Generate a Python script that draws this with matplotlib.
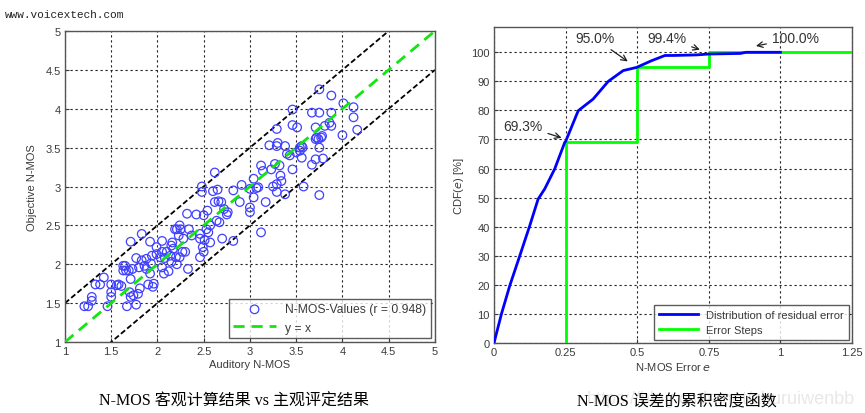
import numpy as np
import matplotlib
matplotlib.use('Agg')
import matplotlib.pyplot as plt

plt.rcParams['font.family'] = ['Liberation Sans', 'Noto Sans CJK SC', 'DejaVu Sans']

# scatter: auditory vs objective N-MOS
auditory = [1.21, 1.25, 1.29, 1.29, 1.33, 1.38, 1.42, 1.46, 1.50, 1.50, 1.50, 1.58, 1.61, 1.63,
            1.65, 1.66, 1.67, 1.69, 1.70, 1.71, 1.73, 1.71, 1.71, 1.74, 1.77, 1.77, 1.79, 1.81,
            1.83, 1.83, 1.86, 1.88, 1.90, 1.92, 1.92, 1.93, 1.95, 1.96, 1.99, 1.99, 2.03, 2.05,
            2.05, 2.07, 2.08, 2.12, 2.14, 2.15, 2.16, 2.17, 2.19, 2.20, 2.21, 2.21, 2.23, 2.24,
            2.25, 2.27, 2.28, 2.32, 2.33, 2.34, 2.37, 2.42, 2.46, 2.46, 2.46, 2.48, 2.48, 2.49,
            2.50, 2.50, 2.51, 2.53, 2.54, 2.55, 2.57, 2.57, 2.60, 2.62, 2.62, 2.64, 2.65, 2.66,
            2.67, 2.69, 2.70, 2.72, 2.75, 2.76, 2.82, 2.82, 2.89, 2.91, 3.00, 3.00, 3.00, 3.04,
            3.04, 3.07, 3.09, 3.12, 3.12, 3.14, 3.17, 3.21, 3.23, 3.25, 3.27, 3.29, 3.29, 3.29,
            3.29, 3.30, 3.32, 3.33, 3.34, 3.38, 3.38, 3.40, 3.43, 3.46, 3.46, 3.46, 3.50, 3.51,
            3.54, 3.54, 3.56, 3.57, 3.56, 3.58, 3.67, 3.67, 3.71, 3.71, 3.71, 3.72, 3.74, 3.75,
            3.75, 3.75, 3.75, 3.77, 3.78, 3.79, 3.81, 3.86, 3.88, 3.88, 3.88, 4.00, 4.01, 4.12,
            4.12, 4.16, 1.56, 1.63, 1.80, 1.88, 1.94, 2.05, 2.10, 2.15, 2.24, 2.30]
objective = [1.46, 1.46, 1.53, 1.58, 1.74, 1.74, 1.83, 1.46, 1.74, 1.64, 1.58, 1.74, 1.72, 1.98,
             1.98, 1.92, 1.46, 1.92, 1.64, 2.29, 1.94, 1.81, 1.58, 1.60, 1.48, 2.08, 1.62, 1.69,
             2.39, 2.05, 1.98, 2.07, 1.74, 2.29, 1.88, 2.01, 1.71, 1.75, 2.22, 2.13, 2.09, 2.30,
             1.96, 1.88, 2.08, 1.91, 2.11, 2.24, 2.28, 2.20, 2.45, 2.09, 2.45, 2.00, 2.37, 2.09,
             2.45, 2.16, 2.33, 2.65, 1.94, 2.45, 2.37, 2.64, 2.33, 2.09, 2.39, 3.00, 2.93, 2.22,
             2.63, 2.16, 2.31, 2.45, 2.69, 2.41, 2.50, 2.28, 2.94, 2.80, 3.18, 2.56, 2.96, 2.81,
             2.54, 2.80, 2.33, 2.71, 2.64, 2.67, 2.95, 2.30, 2.80, 3.02, 2.97, 2.73, 2.67, 3.10,
             2.86, 2.98, 2.99, 3.27, 2.41, 3.20, 2.80, 3.53, 3.22, 3.00, 3.29, 3.52, 3.74, 3.03,
             2.93, 3.56, 3.27, 3.14, 3.07, 3.52, 2.90, 3.42, 3.40, 3.22, 3.79, 3.99, 3.44, 3.76,
             3.46, 3.50, 3.52, 3.50, 3.37, 3.00, 3.95, 3.28, 3.76, 3.61, 3.35, 3.63, 3.61, 4.25,
             3.95, 3.50, 2.89, 3.63, 3.65, 3.36, 3.78, 3.82, 4.17, 3.95, 3.78, 3.66, 4.07, 4.02,
             3.89, 3.73, 1.73, 1.92, 1.96, 1.94, 2.11, 2.16, 2.16, 2.03, 2.50, 2.16]

# CDF of residual error
err_e = [0, 0.026, 0.055, 0.09, 0.125, 0.154, 0.177, 0.212, 0.247, 0.25, 0.294, 0.346, 0.399,
         0.451, 0.498, 0.55, 0.597, 0.626, 0.708, 0.75, 0.86, 0.88, 1.0]
cdf = [0, 10, 19.7, 30, 40.4, 49.5, 53, 59.9, 69, 69.3, 79.9, 83.9, 90, 93.7, 94.8, 97.1, 98.9,
       98.9, 99.1, 99.4, 99.6, 100, 100]
step_e = [0.25, 0.25, 0.5, 0.5, 0.75, 0.75, 1.25]
step_cdf = [0, 69.3, 69.3, 95.0, 95.0, 100, 100]

fig = plt.figure(figsize=(8.65, 4.14), dpi=100)
grid_kw = dict(color='#222222', linestyle=(0, (2, 2.5)), linewidth=0.8)
tick_col = '#3a3a3a'


def style(ax):
    for s in ax.spines.values():
        s.set_color('#555555')
        s.set_linewidth(1.0)
    ax.tick_params(direction='in', length=3, labelsize=8, colors=tick_col, pad=3)
    ax.grid(True, **grid_kw)
    ax.set_axisbelow(True)


# left: scatter
ax1 = fig.add_axes([0.0751, 0.1715, 0.4277, 0.7512])
line = np.array([1, 5])
ax1.plot(line, line + 0.5, color='black', linestyle=(0, (3, 1.5)), linewidth=1.3, zorder=2)
ax1.plot(line, line - 0.5, color='black', linestyle=(0, (3, 1.5)), linewidth=1.3, zorder=2)
ax1.scatter(auditory, objective, s=38, facecolors='none', edgecolors='#4040ff', linewidths=0.9,
            label='N-MOS-Values (r = 0.948)', zorder=3)
ax1.plot(line, line, color='#11e611', linestyle=(0, (4, 2.5)), linewidth=2,
         label='y = x', zorder=4)
ax1.set_xlim(1, 5)
ax1.set_ylim(1, 5)
ticks = np.arange(1, 5.01, 0.5)
ax1.set_xticks(ticks)
ax1.set_yticks(ticks)
ax1.set_xticklabels(['1', '1.5', '2', '2.5', '3', '3.5', '4', '4.5', '5'])
ax1.set_yticklabels(['1', '1.5', '2', '2.5', '3', '3.5', '4', '4.5', '5'])
style(ax1)
ax1.set_xlabel('Auditory N-MOS', fontsize=8, color=tick_col, labelpad=2)
ax1.set_ylabel('Objective N-MOS', fontsize=8, color=tick_col, labelpad=6)
leg1 = ax1.legend(loc='lower right', fontsize=8.7, frameon=True, fancybox=False,
                  edgecolor='#333333', borderaxespad=0.3, handlelength=3.5,
                  labelcolor=tick_col)
leg1.get_frame().set_linewidth(1.0)

# right: CDF
ax2 = fig.add_axes([0.5711, 0.1691, 0.4139, 0.7633])
ax2.plot(step_e, step_cdf, color='#00ff00', linewidth=2, label='Error Steps', zorder=3)
ax2.plot(err_e, cdf, color='#0000ff', linewidth=2, label='Distribution of residual error',
         zorder=4)
ax2.set_xlim(0, 1.25)
ax2.set_ylim(0, 108.7)
ax2.set_xticks([0, 0.25, 0.5, 0.75, 1, 1.25])
ax2.set_xticklabels(['0', '0.25', '0.5', '0.75', '1', '1.25'])
ax2.set_yticks(np.arange(0, 101, 10))
style(ax2)
ax2.set_xlabel('N-MOS Error $e$', fontsize=8, color=tick_col, labelpad=2)
ax2.set_ylabel('CDF($e$) [%]', fontsize=8, color=tick_col, labelpad=4)
handles, labels = ax2.get_legend_handles_labels()
leg2 = ax2.legend(handles[::-1], labels[::-1], loc='lower right', fontsize=8, frameon=True,
                  fancybox=False, edgecolor='#333333', borderaxespad=0.3, handlelength=3.5,
                  labelcolor=tick_col)
leg2.get_frame().set_linewidth(1.0)

arr = dict(arrowstyle='->', color='#222222', lw=0.9)
ax2.annotate('69.3%', xy=(0.245, 70.3), xytext=(0.101, 74.8), fontsize=10, color='#333333',
             ha='center', va='center', arrowprops=arr)
ax2.annotate('95.0%', xy=(0.475, 96.3), xytext=(0.352, 104.8), fontsize=10, color='#333333',
             ha='center', va='center', arrowprops=arr)
ax2.annotate('99.4%', xy=(0.728, 100.6), xytext=(0.603, 104.8), fontsize=10, color='#333333',
             ha='center', va='center', arrowprops=arr)
ax2.annotate('100.0%', xy=(0.905, 102.0), xytext=(1.052, 104.8), fontsize=10, color='#333333',
             ha='center', va='center', arrowprops=arr)

# watermark and captions
fig.text(5 / 865, 1 - 15 / 414, 'www.voicextech.com', fontsize=8, family='Liberation Mono',
         color='#222222', va='center', ha='left')
fig.text(855 / 865, 1 - 400 / 414, 'https://blog.csdn.net/zhuruiwenbb', fontsize=13,
         color='#e8e8e8', va='center', ha='right', zorder=0)
fig.text(234 / 865, 1 - 402 / 414, 'N-MOS 客观计算结果 vs 主观评定结果', fontsize=11.5,
         family=['Liberation Serif', 'Noto Sans CJK SC'], color='black', va='center', ha='center')
fig.text(677 / 865, 1 - 402 / 414, 'N-MOS 误差的累积密度函数', fontsize=11.5,
         family=['Liberation Serif', 'Noto Sans CJK SC'], color='black', va='center', ha='center')

fig.savefig('out.png', dpi=100)
